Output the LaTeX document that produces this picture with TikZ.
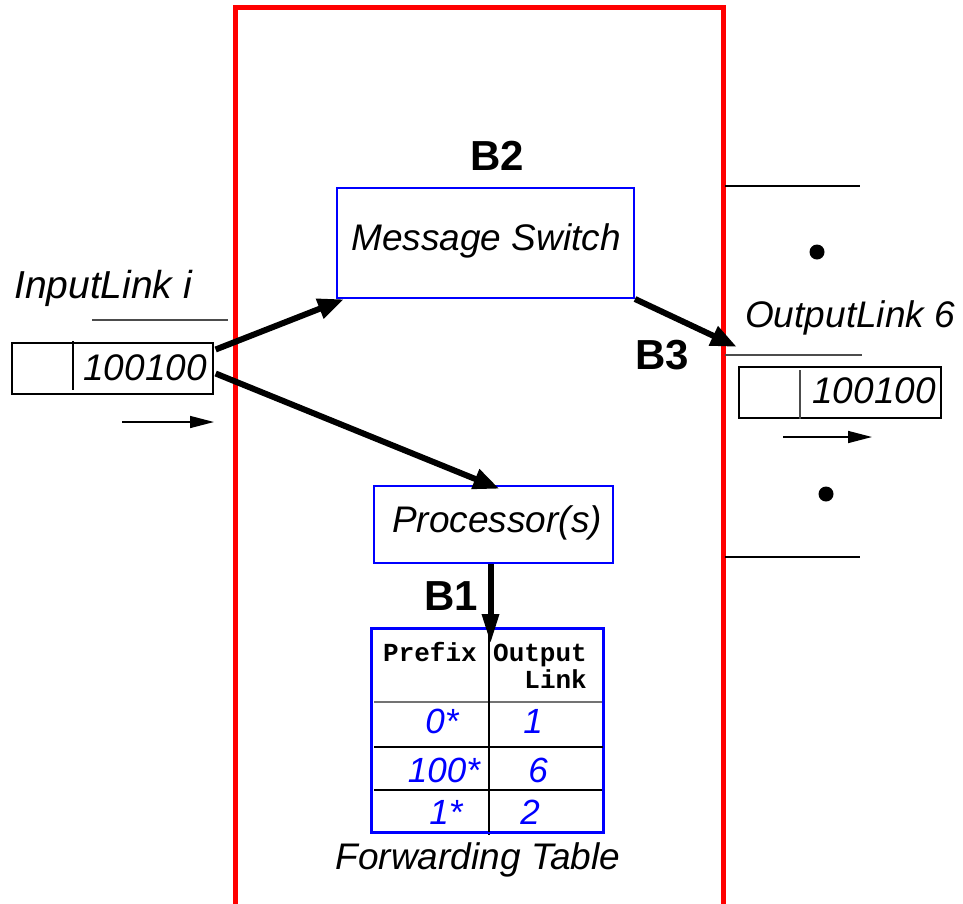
\documentclass[tikz,border=0pt]{standalone}
\usepackage{fontspec}
\setmainfont{Liberation Sans}
\newfontfamily\monobold{Liberation Mono}[BoldFont={* Bold}]
\usetikzlibrary{arrows.meta,calc}

\tikzset{
  thin line/.style={line width=1.3pt, black},
  box/.style={draw, thin line, minimum width=#1, inner sep=0pt},
  bluebox/.style={draw=blue, line width=2pt, inner sep=0pt},
  itext/.style={font=\fontsize{37}{40}\selectfont\itshape, inner sep=0pt},
  btext/.style={font=\fontsize{42}{46}\selectfont\bfseries, inner sep=0pt},
  ttext/.style={font=\fontsize{26}{28}\selectfont\monobold\bfseries, inner sep=0pt, align=center},
  numtext/.style={font=\fontsize{35}{38}\selectfont\itshape, text=blue, inner sep=0pt},
  bigarrow/.style={line width=6pt, -{Triangle[length=26pt, width=20pt]}, shorten >=-2pt},
  smallarrow/.style={line width=1.5pt, -{Triangle[length=24pt, width=12pt]}},
  dot/.style={circle, fill=black, minimum size=15pt, inner sep=0pt}
}

\begin{document}
\begin{tikzpicture}[x=1pt, y=-1pt]
\useasboundingbox (0,0) rectangle (963,903);

% router frame
\draw[red, line width=5pt] (235.5,905) -- (235.5,7.5) -- (723.5,7.5) -- (723.5,905);

% switch fabric and processor
\node[bluebox, minimum width=297pt, minimum height=110pt] (msw) at (485.5,243) {};
\node[itext] at (486,241) {Message Switch};
\node[btext] (b2) at (497,156) {B2};

\node[bluebox, minimum width=239pt, minimum height=77pt] (proc) at (493.5,524.5) {};
\node[itext] at (497,523) {Processor(s)};

% forwarding table
\node[bluebox, minimum width=231pt, minimum height=203pt] (tab) at (487.5,730.5) {};
\draw[line width=1.3pt, black!55] (374,702) -- (602,702);
\draw[thin line] (374,747) -- (605,747);
\draw[thin line] (374,790) -- (602,790);
\draw[thin line] (489,629) -- (489,835);
\draw[blue, line width=2pt] (tab.north west) rectangle (tab.south east);
\node[ttext] (hpre) at (430,652) {Prefix};
\node[ttext] (hout) at (540,666) {Output\\[-1pt]\ \ Link};
\node[numtext] (p1) at (442,721) {0*};
\node[numtext] (o1) at (533,721) {1};
\node[numtext] (p2) at (444,770) {100*};
\node[numtext] (o2) at (538,770) {6};
\node[numtext] (p3) at (446,812) {1*};
\node[numtext] (o3) at (530,812) {2};
\node[itext] (ftl) at (478,860) {Forwarding Table};

% input link
\node[itext, anchor=west, font=\fontsize{39}{42}\selectfont\itshape] (inl) at (14,288) {InputLink i};
\draw[thin line, black!70] (92,320) -- (228,320);
\node[box=201pt, minimum height=51pt] (inbox) at (112.5,368.5) {};
\draw[thin line] (73,341) -- (73,390);
\node[itext, anchor=east] at (207,368) {100100};
\coordinate (inend) at (122,422);
\coordinate (intip) at (214,422);
\draw[smallarrow] (inend) -- (intip);

% output link
\draw[thin line] (725,186) -- (860,186);
\draw[thin line, black!70] (725,355) -- (862,355);
\draw[thin line] (725,557) -- (860,557);
\node[dot] (d1) at (817,252) {};
\node[dot] (d2) at (826,494) {};
\node[itext, anchor=west] (outl) at (745,318) {OutputLink 6};
\node[box=202pt, minimum height=51pt] (outbox) at (840,392.5) {};
\draw[thin line, black!70] (800,370) -- (800,419);
\node[itext, anchor=east] at (936,391) {100100};
\coordinate (outend) at (783,437);
\coordinate (outtip) at (872,437);
\draw[smallarrow] (outend) -- (outtip);

% packet paths
\coordinate (s1) at ($(inbox.east)+(2,-19)$);
\coordinate (s2) at ($(inbox.east)+(2,5)$);
\coordinate (t1) at ($(msw.south west)+(6,1)$);
\coordinate (t2) at ($(proc.north)+(4,3)$);
\coordinate (s3) at (msw.south east);
\coordinate (t3) at (735,346);
\draw[bigarrow] (s1) -- (t1);
\draw[bigarrow] (s2) -- (t2);
\draw[bigarrow] (s3) -- (t3);
\coordinate (s4) at ($(proc.south)+(-3,0)$);
\coordinate (t4) at (490.5,644);
\draw[bigarrow, shorten >=0pt, -{Triangle[length=30pt, width=16pt]}] (s4) -- (t4);

\node[btext] (b1) at (451,596) {B1};
\node[btext] (b3) at (662,355) {B3};
\end{tikzpicture}
\end{document}
